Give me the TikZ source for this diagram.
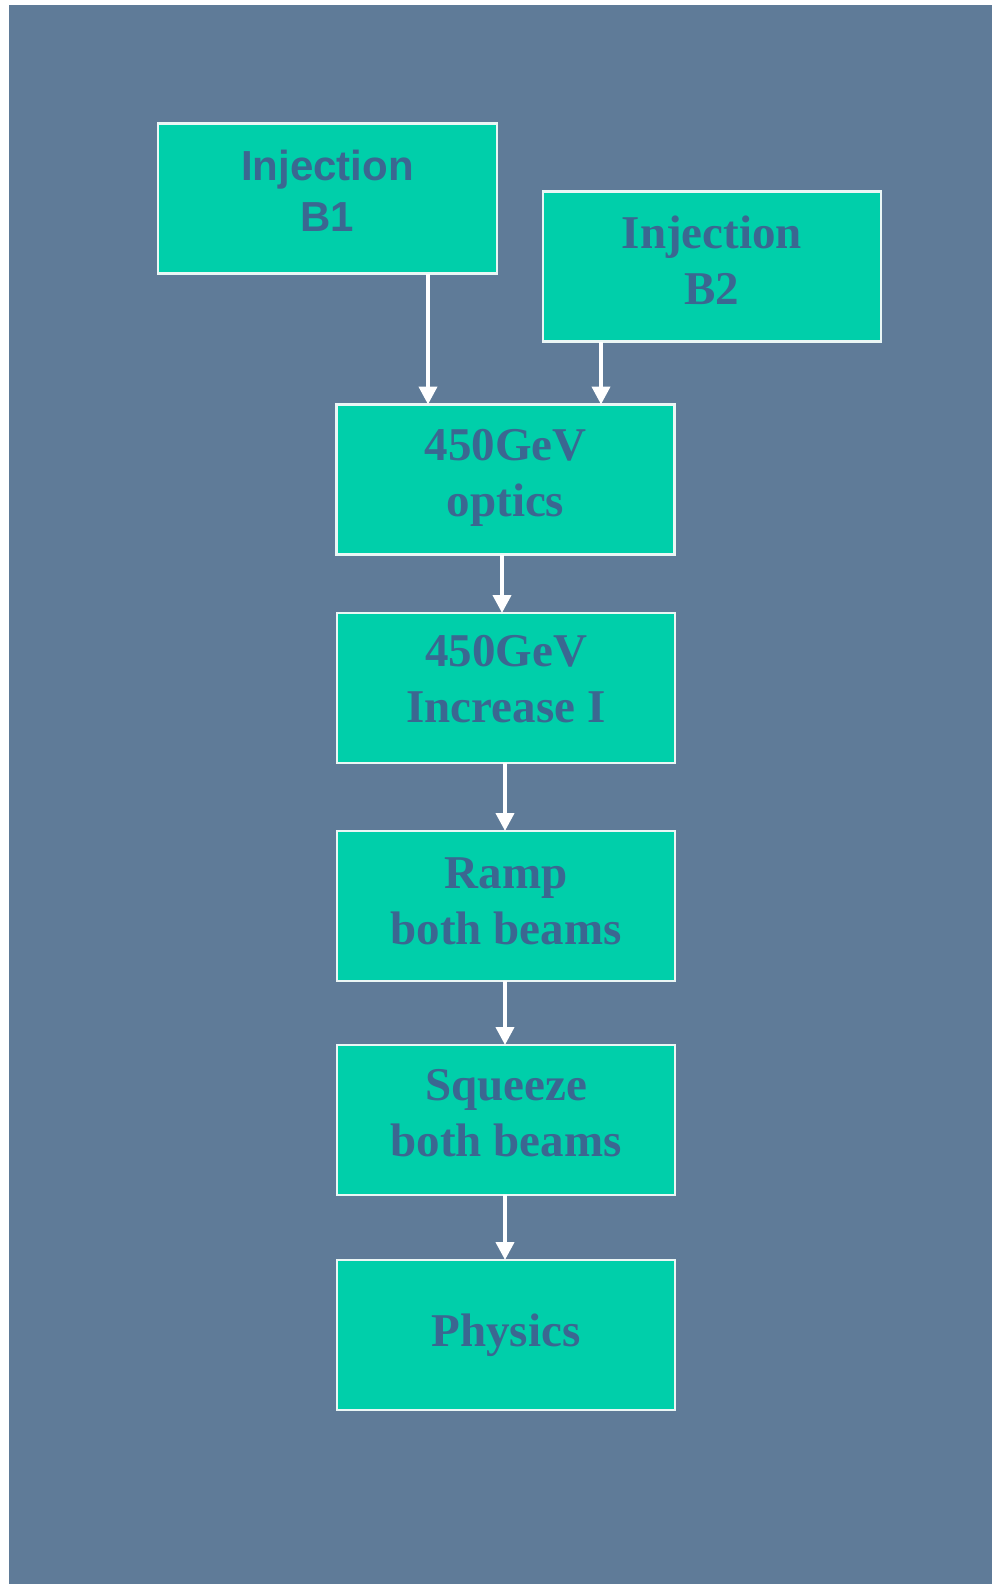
\documentclass[tikz,border=0pt]{standalone}
\usepackage{fontspec}
\setmainfont{Liberation Serif}
\newfontfamily\headsans{Liberation Sans}
\usetikzlibrary{arrows.meta}
\definecolor{slate}{HTML}{5F7B98}
\definecolor{stagefill}{HTML}{00CFAA}
\definecolor{stageedge}{HTML}{EAF6F5}
\definecolor{stagetext}{HTML}{3B6791}
\tikzset{
  stage/.style={draw=stageedge, line width=2.5pt, fill=stagefill,
    inner sep=0pt, outer sep=0pt, minimum width=338pt, minimum height=150pt},
  serifcap/.style={text=stagetext, align=center, inner sep=0pt,
    font=\fontsize{47}{56}\selectfont\bfseries},
  sanscap/.style={text=stagetext, align=center, inner sep=0pt,
    font=\headsans\fontsize{42}{51}\selectfont\bfseries},
  flow/.style={draw=white, line width=4pt,
    -{Triangle[width=18pt,length=18pt]}}
}
\begin{document}
\begin{tikzpicture}[x=1pt,y=-1pt]
\useasboundingbox (0,0) rectangle (992,1584);
\fill[slate] (9,5) rectangle (992,1584);

% stage boxes
\node[stage, minimum width=339pt] (b1) at (327.5,198.5) {};
\node[stage] (b2) at (712,266.5) {};
\node[stage] (optics) at (505.5,479.5) {};
\node[stage] (incr) at (506,688) {};
\node[stage] (ramp) at (506,906) {};
\node[stage] (squeeze) at (506,1120) {};
\node[stage] (physics) at (506,1335) {};

% stage captions
\node[sanscap, yshift=8pt] (b1t) at (b1.center) {Injection\\B1};
\node[serifcap, yshift=6pt] (b2t) at (b2.center) {Injection\\B2};
\node[serifcap, yshift=2pt] (opticst) at (optics.center) {450GeV\\optics};
\node[serifcap, yshift=9pt] (incrt) at (incr.center) {450GeV\\Increase I};
\node[serifcap, yshift=5pt] (rampt) at (ramp.center) {Ramp\\both beams};
\node[serifcap, yshift=7pt] (squeezet) at (squeeze.center) {Squeeze\\both beams};
\node[serifcap] (physicst) at (physics.center) {Physics};

% connectors
\draw[flow] ([xshift=-69pt]b1.south east) -- ([xshift=-69pt]b1.south east |- optics.north);
\draw[flow] ([xshift=58pt]b2.south west) -- ([xshift=58pt]b2.south west |- optics.north);
\draw[flow] ([xshift=-3.5pt]optics.south) -- ([xshift=-3.5pt]optics.south |- incr.north);
\draw[flow] ([xshift=-1pt]incr.south) -- ([xshift=-1pt]incr.south |- ramp.north);
\draw[flow] ([xshift=-1pt]ramp.south) -- ([xshift=-1pt]ramp.south |- squeeze.north);
\draw[flow] ([xshift=-1pt]squeeze.south) -- ([xshift=-1pt]squeeze.south |- physics.north);
\end{tikzpicture}
\end{document}
